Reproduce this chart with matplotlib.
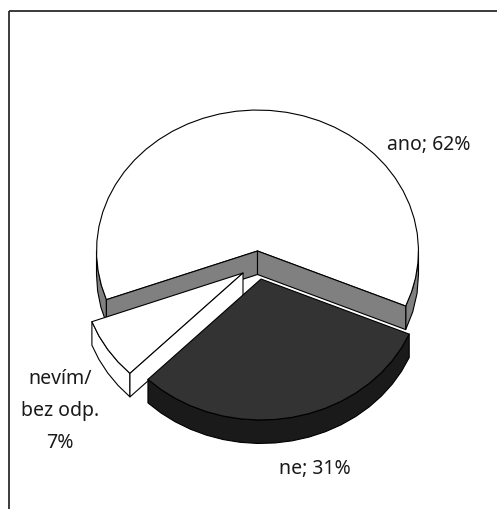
import numpy as np
import matplotlib
matplotlib.use("Agg")
import matplotlib.pyplot as plt
from matplotlib.patches import Polygon

labels = ["ano; 62%", "ne; 31%", "nevím/\nbez odp.\n7%"]
values = [62, 31, 7]
tops = ["#ffffff", "#333333", "#ffffff"]
sides = ["#808080", "#1a1a1a", "#ffffff"]
apexes = [(257.5, 251), (261, 279), (243, 273)]
label_xy = [(429, 145), (315, 469), (60, 411)]

RX, RY, DEPTH = 161, 141, 23.5
START = 113.0  # degrees clockwise from the top, where 'ne' begins

fig = plt.figure(figsize=(4.97, 5.09), dpi=100)
ax = fig.add_axes([0, 0, 1, 1])
ax.set_xlim(0, 497)
ax.set_ylim(509, 0)
ax.axis("off")
LW = 0.8

deg = np.array(values) / sum(values) * 360
spans = {1: (START, START + deg[1]),
         2: (START + deg[1], START + deg[1] + deg[2]),
         0: (START + deg[1] + deg[2], START + 360)}


def rim(i, a0, a1):
    t = np.radians(np.linspace(a0, a1, max(int((a1 - a0) / 6), 2) + 1))
    cx, cy = apexes[i]
    return np.column_stack([cx + RX * np.sin(t), cy - RY * np.cos(t)])


def poly(pts, fc, z):
    ax.add_patch(Polygon(pts, closed=True, fc=fc, ec="black", lw=LW, zorder=z, joinstyle="round"))


down = np.array([0, DEPTH])
for z, i in enumerate([0, 2, 1]):
    a0, a1 = spans[i]
    arc = rim(i, a0, a1)
    apex = np.array(apexes[i])
    base = z * 10
    # outer wall where the rim faces the viewer
    if i == 0:
        ranges = [(a0, 270), (360 + 90, a1)]
    else:
        ranges = [(max(a0, 90), min(a1, 270))]
    for lo, hi in ranges:
        seg = rim(i, lo, hi)
        poly(np.vstack([seg, (seg + down)[::-1]]), sides[i], base + 1)
    # radial walls that face the viewer
    if np.cos(np.radians(a0 - 90)) < 0:
        poly([apex, arc[0], arc[0] + down, apex + down], sides[i], base + 2)
    if np.cos(np.radians(a1 + 90)) < 0:
        poly([apex, arc[-1], arc[-1] + down, apex + down], sides[i], base + 2)
    # top face
    poly(np.vstack([apex, arc]), tops[i], base + 1.5)

for s, (x, y) in zip(labels, label_xy):
    ax.text(x, y, s, ha="center", va="center", fontsize=14, family="Noto Sans",
            color="#1a1a1a", linespacing=1.77, zorder=50)

ax.plot([9, 9], [509, 11], color="#1a1a1a", lw=1.2, zorder=60, solid_capstyle="butt")
ax.plot([9, 497], [11, 11], color="#1a1a1a", lw=1.2, zorder=60, solid_capstyle="butt")

fig.savefig("out.png", dpi=100)
